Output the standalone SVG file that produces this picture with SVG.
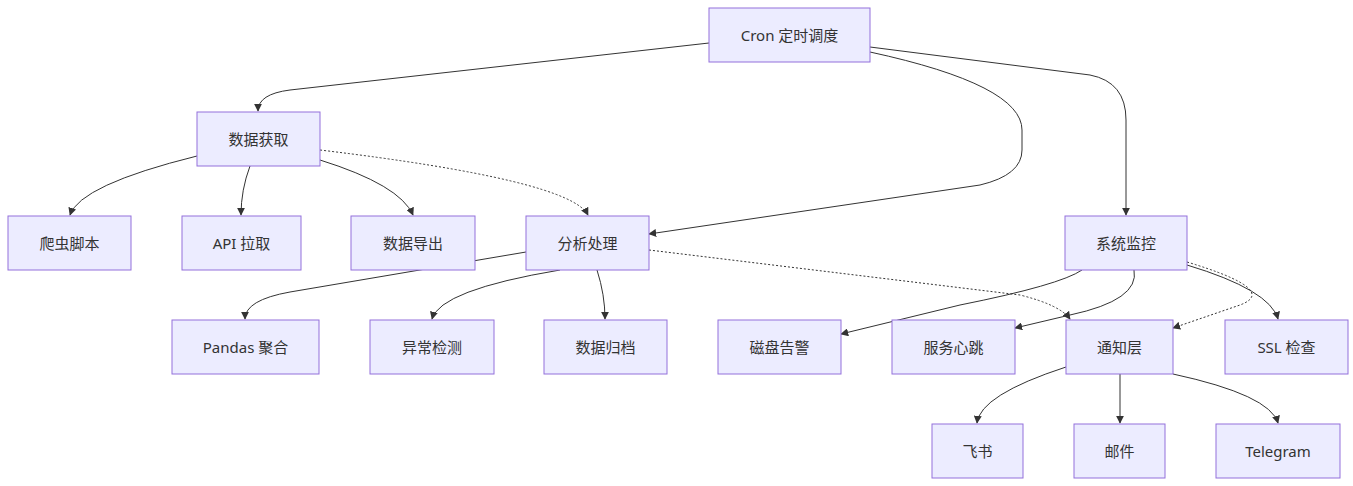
<svg xmlns="http://www.w3.org/2000/svg" width="1353" height="486" viewBox="0 0 1353 486">
<style>
.n rect{fill:#ECECFF;stroke:#9370DB;stroke-width:1}
.n text{font-family:"Noto Sans","Noto Sans CJK SC",sans-serif;font-size:15px;fill:#333;text-anchor:middle;dominant-baseline:central}
.e path{fill:none;stroke:#333;stroke-width:1;marker-end:url(#a)}
.e path.d{stroke-dasharray:2 2}
</style>
<defs><marker id="a" viewBox="0 0 10 10" refX="9" refY="5" markerWidth="8" markerHeight="8" orient="auto"><path d="M0,0L10,5L0,10z" fill="#333"/></marker></defs>
<rect width="1353" height="486" fill="#fff"/>
<g class="e">
<path d="M709,43 L290,90 Q258,94 258,111"/>
<path d="M870,52 Q1022,85 1022,130 L1022,150 Q1022,175 980,185 L649,234"/>
<path d="M870,47 L1090,75 Q1126,82 1126,120 L1126,215"/>
<path d="M197,156 Q80,185 70,215"/>
<path d="M250,166 Q241,190 241,215"/>
<path d="M320,160 Q400,185 413,215"/>
<path class="d" d="M320,150 Q570,180 588,215"/>
<path d="M526,252 L290,292 Q245,300 245,319"/>
<path d="M560,270 Q440,290 432,319"/>
<path d="M597,270 Q605,295 605,319"/>
<path class="d" d="M649,250 L1020,295 Q1060,305 1070,319"/>
<path d="M1082,270 Q1060,285 960,305 L841,334"/>
<path d="M1134,270 Q1140,300 1070,315 L1015,328"/>
<path class="d" d="M1187,262 Q1280,290 1240,305 L1173,328"/>
<path d="M1187,265 Q1270,290 1278,319"/>
<path d="M1066,367 Q980,395 977,423"/>
<path d="M1120,374 L1120,423"/>
<path d="M1173,374 Q1270,395 1278,423"/>
</g>
<g id="cron" class="n"><rect x="709" y="8" width="161" height="54"/><text x="789.5" y="35">Cron 定时调度</text></g>
<g id="fetch" class="n"><rect x="197" y="112" width="123" height="54"/><text x="258.5" y="139">数据获取</text></g>
<g id="crawler" class="n"><rect x="8" y="216" width="123" height="54"/><text x="69.5" y="243">爬虫脚本</text></g>
<g id="api" class="n"><rect x="182" y="216" width="119" height="54"/><text x="241.5" y="243">API 拉取</text></g>
<g id="export" class="n"><rect x="351" y="216" width="124" height="54"/><text x="413" y="243">数据导出</text></g>
<g id="analyze" class="n"><rect x="526" y="216" width="123" height="54"/><text x="587.5" y="243">分析处理</text></g>
<g id="monitor" class="n"><rect x="1065" y="216" width="122" height="54"/><text x="1126" y="243">系统监控</text></g>
<g id="pandas" class="n"><rect x="172" y="320" width="147" height="54"/><text x="245.5" y="347">Pandas 聚合</text></g>
<g id="anomaly" class="n"><rect x="370" y="320" width="124" height="54"/><text x="432" y="347">异常检测</text></g>
<g id="archive" class="n"><rect x="544" y="320" width="123" height="54"/><text x="605.5" y="347">数据归档</text></g>
<g id="disk" class="n"><rect x="718" y="320" width="123" height="54"/><text x="779.5" y="347">磁盘告警</text></g>
<g id="heartbeat" class="n"><rect x="892" y="320" width="123" height="54"/><text x="953.5" y="347">服务心跳</text></g>
<g id="notify" class="n"><rect x="1066" y="320" width="107" height="54"/><text x="1119.5" y="347">通知层</text></g>
<g id="ssl" class="n"><rect x="1225" y="320" width="123" height="54"/><text x="1286.5" y="347">SSL 检查</text></g>
<g id="feishu" class="n"><rect x="932" y="424" width="91" height="54"/><text x="977.5" y="451">飞书</text></g>
<g id="mail" class="n"><rect x="1074" y="424" width="91" height="54"/><text x="1119.5" y="451">邮件</text></g>
<g id="telegram" class="n"><rect x="1216" y="424" width="124" height="54"/><text x="1278" y="451">Telegram</text></g>
</svg>
